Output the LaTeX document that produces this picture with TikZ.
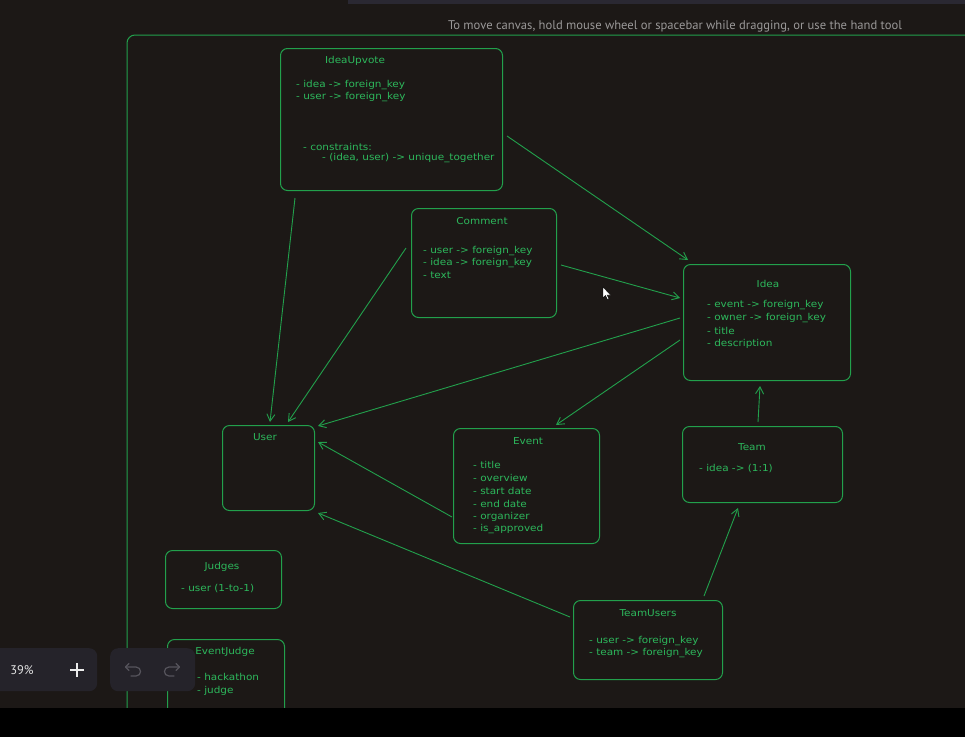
\documentclass[tikz,border=0pt]{standalone}
\usepackage{fontspec}
\setmainfont{DejaVu Sans}[FakeStretch=1.1]
\newfontfamily\hintfont{PT Sans}
\usetikzlibrary{arrows.meta,calc}

\definecolor{canvas}{HTML}{1C1816}
\definecolor{ink}{HTML}{22A04C}
\definecolor{inktext}{HTML}{2DB85C}
\definecolor{panel}{HTML}{25232A}
\definecolor{hint}{HTML}{9A9898}
\definecolor{topbar}{HTML}{2A2832}
\definecolor{icon}{HTML}{56545C}

\tikzset{
  entity/.style={draw=ink, line width=1pt, rounded corners=7pt,
                 anchor=north west, inner sep=0pt},
  ttl/.style={text=inktext, font=\fontsize{9.5}{11}\selectfont, inner sep=0pt},
  field/.style={ttl, anchor=west},
  link/.style={draw=ink, line width=0.9pt,
               -{Straight Barb[length=7pt,width=8pt,line width=0.9pt]}},
  ctrl/.style={fill=panel, rounded corners=8pt, anchor=north west, inner sep=0pt},
  histicon/.style={draw=icon, line width=1.2pt, line cap=round, line join=round}
}

\begin{document}
\begin{tikzpicture}[x=1pt,y=-1pt]
  % canvas
  \fill[canvas] (0,0) rectangle (965,737);
  \useasboundingbox (0,0) rectangle (965,737);

  % frame around the schema
  \draw[ink, line width=1pt, rounded corners=8pt] (127,712) -- (127,35) -- (970,35);

  % entities
  \node[entity, minimum width=222pt, minimum height=142pt] (iu) at (280,48) {};
  \node[entity, minimum width=145pt, minimum height=109pt] (cm) at (411,208) {};
  \node[entity, minimum width=167pt, minimum height=116pt] (idea) at (683,264) {};
  \node[entity, minimum width=92pt,  minimum height=85pt]  (user) at (222,425) {};
  \node[entity, minimum width=146pt, minimum height=115pt] (ev) at (453,428) {};
  \node[entity, minimum width=160pt, minimum height=76pt]  (team) at (682,426) {};
  \node[entity, minimum width=116pt, minimum height=58pt]  (jd) at (165,550) {};
  \node[entity, minimum width=117pt, minimum height=92pt]  (ej) at (167,639) {};
  \node[entity, minimum width=149pt, minimum height=79pt]  (tu) at (573,600) {};

  % IdeaUpvote
  \node[ttl] (iuT) at (355,61) {IdeaUpvote};
  \node[field] (iu1) at (296,85) {- idea -> foreign\_key};
  \node[field] (iu2) at (296,97) {- user -> foreign\_key};
  \node[field] (iu3) at (303,147) {- constraints:};
  \node[field] (iu4) at (322,158) {- (idea, user) -> unique\_together};

  % Comment
  \node[ttl] (cmT) at (482,221) {Comment};
  \node[field] (cm1) at (423,251) {- user -> foreign\_key};
  \node[field] (cm2) at (423,263) {- idea -> foreign\_key};
  \node[field] (cm3) at (423,275) {- text};

  % Idea
  \node[ttl] (ideaT) at (768,284) {Idea};
  \node[field] (id1) at (707,305) {- event -> foreign\_key};
  \node[field] (id2) at (707,318) {- owner -> foreign\_key};
  \node[field] (id3) at (707,331) {- title};
  \node[field] (id4) at (707,344) {- description};

  % User
  \node[ttl] (userT) at (265,437) {User};

  % Event
  \node[ttl] (evT) at (528,441) {Event};
  \node[field] (ev1) at (473,465) {- title};
  \node[field] (ev2) at (473,478) {- overview};
  \node[field] (ev3) at (473,491) {- start date};
  \node[field] (ev4) at (473,504) {- end date};
  \node[field] (ev5) at (473,517) {- organizer};
  \node[field] (ev6) at (473,529) {- is\_approved};

  % Team
  \node[ttl] (teamT) at (752,447) {Team};
  \node[field] (tm1) at (699,469) {- idea -> (1:1)};

  % Judges
  \node[ttl] (jdT) at (222,567) {Judges};
  \node[field] (jd1) at (181,589) {- user (1-to-1)};

  % EventJudge
  \node[ttl] (ejT) at (225,652) {EventJudge};
  \node[field] (ej1) at (197,677) {- hackathon};
  \node[field] (ej2) at (197,691) {- judge};

  % TeamUsers
  \node[ttl] (tuT) at (648,613) {TeamUsers};
  \node[field] (tu1) at (589,641) {- user -> foreign\_key};
  \node[field] (tu2) at (589,653) {- team -> foreign\_key};

  % relations
  \draw[link] ([shift={(227,88)}]iu.north west)   -- ([shift={(5,-4)}]idea.north west);
  \draw[link] ([shift={(15,150)}]iu.north west)   -- ([shift={(48,-3)}]user.north west);
  \draw[link] ([shift={(-5,40)}]cm.north west)    -- ([shift={(66,-3)}]user.north west);
  \draw[link] ([shift={(150,57)}]cm.north west)   -- ([shift={(-3,34)}]idea.north west);
  \draw[link] ([shift={(-3,54)}]idea.north west)  -- ([shift={(96,1)}]user.north west);
  \draw[link] ([shift={(-3,76)}]idea.north west)  -- ([shift={(103,-3)}]ev.north west);
  \draw[link] ([shift={(76,-4)}]team.north west)  -- ([shift={(77,122)}]idea.north west);
  \draw[link] ([shift={(-1,89)}]ev.north west)    -- ([shift={(96,17)}]user.north west);
  \draw[link] ([shift={(-3,17)}]tu.north west)    -- ([shift={(96,88)}]user.north west);
  \draw[link] ([shift={(131,-4)}]tu.north west)   -- ([shift={(56,82)}]team.north west);

  % pointer
  \draw[fill=white, draw=black, line width=0.4pt]
    (603,287) -- (603,298) -- (605.5,295.5) -- (607.5,299.5) -- (609,298.8)
    -- (607,295) -- (610.5,295) -- cycle;

  % zoom control
  \node[ctrl, minimum width=105pt, minimum height=43pt] (zoombox) at (-8,648) {};
  \node[text=white!80!gray, font=\hintfont\fontsize{12.5}{14}\selectfont, inner sep=0pt] (zoomval) at (22,670) {39\%};
  \draw[white!85!gray, line width=1.3pt] (70,670) -- (84,670) (77,663) -- (77,677);

  % undo / redo control
  \node[ctrl, minimum width=85pt, minimum height=43pt] (histbox) at (110,648) {};
  \draw[histicon] (126,667) -- (136,667) .. controls (142,667) and (142,676) .. (136,676) -- (131,676);
  \draw[histicon] (129,663.5) -- (125.5,667) -- (129,670.5);
  \draw[histicon] (179,667) -- (169,667) .. controls (163,667) and (163,676) .. (169,676) -- (174,676);
  \draw[histicon] (176,663.5) -- (179.5,667) -- (176,670.5);

  % screen edges
  \fill[black] (0,708) rectangle (965,737);
  \fill[topbar] (348,0) rectangle (965,4);
  \node[text=hint, inner sep=0pt] (hintline) at (675,26)
    {\resizebox{454pt}{!}{\hintfont\fontsize{11}{12}\selectfont To move canvas, hold mouse wheel or spacebar while dragging, or use the hand tool}};
\end{tikzpicture}
\end{document}
